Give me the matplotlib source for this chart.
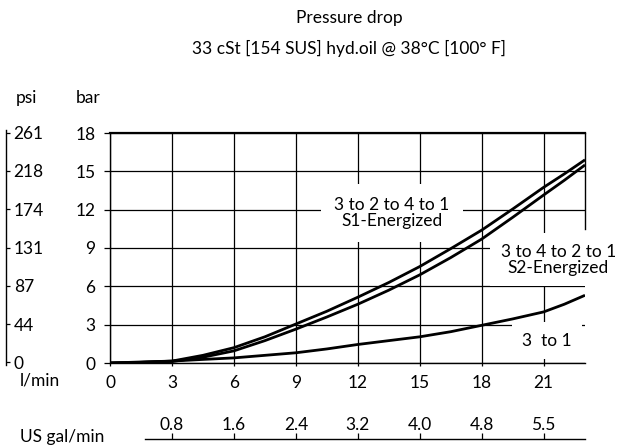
import matplotlib
matplotlib.use("Agg")
import matplotlib.pyplot as plt

plt.rcParams['font.family'] = ['Lato', 'DejaVu Sans']

# flow in l/min
flow = [0, 1.5, 3, 4.5, 6, 7.5, 9, 10.5, 12, 13.5, 15, 16.5, 18, 19.5, 21, 22, 23]
# pressure drop in bar
s1_energized = [0, 0.05, 0.15, 0.6, 1.2, 2.05, 3.05, 4.05, 5.15, 6.3, 7.55, 8.95, 10.4, 12.05, 13.75, 14.8, 15.9]
s2_energized = [0, 0.05, 0.12, 0.45, 0.95, 1.75, 2.65, 3.6, 4.6, 5.7, 6.9, 8.25, 9.7, 11.4, 13.15, 14.3, 15.5]
three_to_one = [0, 0.08, 0.15, 0.28, 0.4, 0.6, 0.8, 1.1, 1.45, 1.75, 2.05, 2.45, 2.95, 3.45, 4.0, 4.6, 5.3]

bar_ticks = [0, 3, 6, 9, 12, 15, 18]
psi_labels = ["0", "44", "87", "131", "174", "218", "261"]
lpm_ticks = [0, 3, 6, 9, 12, 15, 18, 21]
gal_labels = ["0.8", "1.6", "2.4", "3.2", "4.0", "4.8", "5.5"]

W, H = 619, 445
FS = 12.5
fig = plt.figure(figsize=(W / 100, H / 100), dpi=100)

# main chart (bar vs l/min)
ax = fig.add_axes([110 / W, 82 / H, 475 / W, 230 / H])
ax.set_xlim(0, 23)
ax.set_ylim(0, 18)
ax.set_xticks(lpm_ticks)
ax.set_yticks(bar_ticks)
ax.grid(True, color="black", lw=0.9)
for s in ax.spines.values():
    s.set_linewidth(1.0)
ax.spines["top"].set_linewidth(1.6)
ax.spines["right"].set_bounds(10.5, 18)
ax.tick_params(axis="y", direction="out", length=4, width=0.9, pad=6.5, labelsize=FS)
ax.tick_params(axis="x", direction="out", length=2, width=0.9, pad=6.5, labelsize=FS)

for y in (s1_energized, s2_energized, three_to_one):
    ax.plot(flow, y, color="black", lw=2.0, zorder=4, solid_capstyle="butt")

ax.text(13.65, 11.75, "3 to 2 to 4 to 1\nS1-Energized", ha="center", va="center",
        fontsize=FS, linespacing=1.0, zorder=3,
        bbox=dict(boxstyle="square,pad=0.75", fc="white", ec="none"))
ax.text(21.7, 8.07, "3 to 4 to 2 to 1\nS2-Energized", ha="center", va="center",
        fontsize=FS, linespacing=1.0, zorder=3,
        bbox=dict(boxstyle="square,pad=0.6", fc="white", ec="none"))
ax.text(21.15, 1.75, "3  to 1", ha="center", va="center", fontsize=FS, zorder=3,
        bbox=dict(boxstyle="square,pad=0.6", fc="white", ec="none"))

# psi scale on far left
axp = fig.add_axes([6 / W, 80 / H, 0.0001, 235 / H])
axp.set_ylim(-0.2, 18.2)
axp.patch.set_visible(False)
for k in ("top", "right", "bottom"):
    axp.spines[k].set_visible(False)
axp.spines["left"].set_linewidth(1.0)
axp.set_xticks([])
axp.set_yticks(bar_ticks)
axp.set_yticklabels(psi_labels)
axp.tick_params(axis="y", left=True, direction="in", length=3, width=0.9,
                labelleft=False, labelright=True, right=False, pad=5.5, labelsize=FS)

# US gal/min scale at bottom
axg = fig.add_axes([110 / W, 6 / H, 475 / W, 0.0001])
axg.set_xlim(0, 23)
axg.patch.set_visible(False)
for k in ("top", "right", "left"):
    axg.spines[k].set_visible(False)
axg.spines["bottom"].set_bounds(1.7, 23)
axg.spines["bottom"].set_linewidth(1.0)
axg.set_yticks([])
axg.set_xticks(lpm_ticks[1:])
axg.set_xticklabels(gal_labels)
axg.tick_params(axis="x", bottom=True, top=False, direction="in", length=4, width=0.9,
                labelbottom=False, labeltop=True, pad=4.5, labelsize=FS)

# titles and unit labels
fig.text(349 / W, 1 - 18 / H, "Pressure drop", ha="center", va="center", fontsize=FS)
fig.text(349 / W, 1 - 48 / H, "33 cSt [154 SUS] hyd.oil @ 38°C [100° F]",
         ha="center", va="center", fontsize=FS)
fig.text(26 / W, 1 - 98 / H, "psi", ha="center", va="center", fontsize=FS)
fig.text(88 / W, 1 - 98 / H, "bar", ha="center", va="center", fontsize=FS)
fig.text(20 / W, 1 - 381 / H, "l/min", ha="left", va="center", fontsize=FS)
fig.text(20 / W, 1 - 437 / H, "US gal/min", ha="left", va="center", fontsize=FS)

fig.savefig("out.png", dpi=100)
